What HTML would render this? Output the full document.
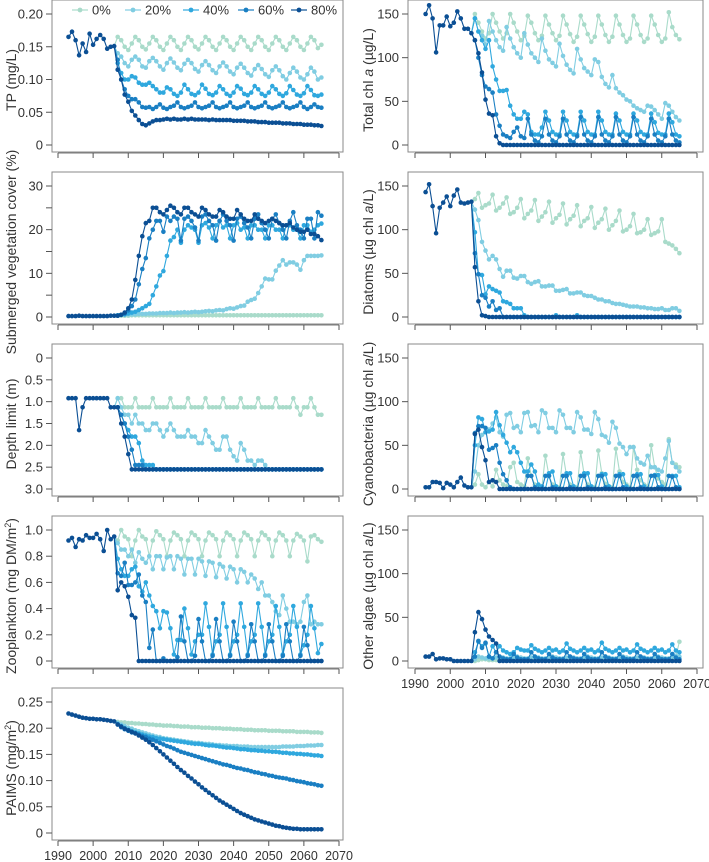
<!DOCTYPE html>
<html><head><meta charset="utf-8"><style>
html,body{margin:0;padding:0;background:#fff;}
svg{display:block;font-family:"Liberation Sans",sans-serif;}
</style></head><body>
<svg id="chart" width="709" height="862" viewBox="0 0 709 862"></svg>
<script>
// ---------- DATA ----------
const scenarioNames = ["0%","20%","40%","60%","80%"];
const histStartYear = 1993;
const scenStartYear = 2007;
const xTickYears = [1990,2000,2010,2020,2030,2040,2050,2060,2070];

// TP (mg/L)
const tpHist = [.165,.173,.160,.137,.155,.142,.170,.153,.162,.168,.162,.147,.150,.151];
const tp0 = [.165,.16,.15,.145,.155, .165,.16,.15,.146,.155, .165,.16,.15,.145,.155, .165,.16,.15,.145,.155, .165,.16,.15,.146,.155, .165,.16,.15,.145,.155, .165,.16,.15,.145,.155, .165,.16,.15,.145,.155, .165,.16,.15,.145,.155, .165,.16,.15,.145,.155, .165,.16,.15,.145,.155, .165,.16,.148,.153];
const tp20 = [.14,.135,.125,.12,.13, .135,.13,.12,.118,.128, .133,.128,.12,.115,.125, .132,.126,.118,.114,.124, .13,.125,.116,.112,.122, .128,.122,.114,.11,.12, .126,.12,.112,.108,.118, .124,.118,.11,.106,.116, .122,.116,.108,.104,.114, .12,.114,.105,.1,.11, .118,.112,.103,.1,.108, .118,.112,.1,.103];
const tp40 = [.125,.11,.10,.10,.105, .103,.095,.092,.092,.095, .09,.085,.08,.08,.088, .085,.078,.075,.08,.092, .085,.078,.076,.08,.092, .086,.078,.076,.08,.09, .085,.078,.075,.08,.09, .086,.078,.076,.08,.09, .085,.078,.075,.08,.09, .085,.078,.075,.079,.09, .084,.077,.075,.079,.09, .084,.076,.075,.077];
const tp60 = [.13,.10,.085,.075,.07, .07,.065,.058,.057,.058, .055,.058,.062,.057,.055, .058,.06,.065,.058,.056, .058,.06,.065,.058,.056, .058,.06,.065,.058,.056, .058,.06,.065,.058,.056, .058,.06,.065,.058,.056, .058,.06,.065,.058,.056, .058,.06,.065,.058,.056, .058,.06,.065,.058,.055, .058,.062,.058,.057];
const tp80 = [.115,.10,.077,.066,.052, .045,.038,.032,.03,.033, .036,.038,.038,.039,.04, .039,.04,.039,.039,.04, .039,.04,.039,.039,.039, .039,.038,.039,.038,.038, .038,.038,.038,.037,.037, .037,.037,.036,.036,.036, .035,.035,.035,.034,.034, .034,.034,.033,.033,.033, .032,.032,.032,.031,.031, .031,.030,.030,.029];

// Total chl a
const chlHist = [150,160,145,106,137,137,147,136,140,153,145,133,133,128];
const chl0 = [150,140,130,122,128, 150,140,130,122,128, 150,140,130,120,125, 148,140,128,120,125, 148,138,128,120,125, 148,138,127,118,124, 148,138,127,118,124, 148,138,126,118,124, 148,138,126,118,122, 148,138,126,118,122, 148,138,126,118,122, 152,135,126,121];
const chl20 = [145,130,125,115,142, 130,120,112,108,135, 122,112,105,100,128, 115,105,100,95,122, 108,98,94,90,116, 102,92,86,82,110, 98,88,84,80,98, 95,78,70,66,80, 65,60,57,52,50, 45,42,40,38,45, 44,40,35,30,48, 45,38,32,28];
const chl40 = [145,130,120,110,120, 90,75,62,62,63, 45,35,30,30,38, 35,15,12,12,20, 38,28,15,12,12, 38,28,15,12,12, 38,28,15,12,12, 38,28,15,12,12, 36,28,15,12,12, 36,28,15,12,12, 36,26,14,12,12, 36,26,12,10];
const chl60 = [120,100,80,67,64, 60,35,22,12,10, 8,15,20,10,8, 30,12,5,3,10, 30,12,5,3,10, 30,12,5,3,10, 32,12,5,3,10, 32,12,5,3,10, 32,12,5,3,10, 32,12,5,3,10, 30,12,5,3,10, 30,12,5,3];
const chl80 = [120,105,83,52,36, 34,10,2,0,0, 0,0,0,0,0, 0,0,0,0,0, 0,0,0,0,0, 0,0,0,0,0, 0,0,0,0,0, 0,0,0,0,0, 0,0,0,0,0, 0,0,0,0,0, 0,0,0,0,0, 0,0,0,0];

// Submerged vegetation cover (%)
const vegHist = [0.2,0.2,0.2,0.3,0.2,0.2,0.2,0.2,0.2,0.2,0.2,0.2,0.3,0.3];
const veg0 = [0.3,0.3,0.3,0.3,0.4, 0.4,0.4,0.4,0.4,0.4, 0.4,0.4,0.4,0.4,0.4, 0.4,0.4,0.4,0.4,0.4, 0.4,0.4,0.4,0.4,0.4, 0.4,0.4,0.4,0.4,0.4, 0.4,0.4,0.4,0.4,0.4, 0.4,0.4,0.4,0.4,0.4, 0.4,0.4,0.4,0.4,0.4, 0.4,0.4,0.4,0.4,0.4, 0.4,0.4,0.4,0.4,0.4, 0.4,0.4,0.4,0.4];
const veg20 = [0.4,0.5,0.5,0.6,0.6, 0.6,0.7,0.7,0.7,0.8, 0.8,0.8,0.9,0.9,0.9, 1.0,0.9,1.0,1.0,1.1, 1.0,1.1,1.2,1.1,1.2, 1.3,1.4,1.3,1.5,1.6, 1.5,1.8,2.0,1.9,2.2, 2.5,2.6,3.5,3.9,4.2, 5.5,7.0,8.8,8.6,8.6, 10.6,11.8,13.0,12.0,12.5, 12.5,12.0,10.8,13.0,14.0, 14.0,14.0,14.0,14.1];
const veg40 = [0.4,0.5,0.6,0.8,1.0, 1.2,1.6,2.0,2.5,3.0, 5.0,7.0,9.5,10.5,14.0, 17.5,18.3,20.0,17.0,20.0, 21.0,20.5,20.0,17.0,21.0, 21.5,20.5,18.0,21.0,22.0, 20.5,21.0,18.0,21.0,21.5, 20.0,20.5,18.0,21.0,21.0, 20.0,20.0,18.0,21.0,21.0, 20.0,20.0,18.0,21.0,21.0, 20.0,20.0,18.0,21.0,21.0, 19.5,20.0,21.0,21.4];
const veg60 = [0.3,0.5,0.8,1.5,2.5, 4.0,7.5,11.0,13.5,18.0, 20.0,22.0,22.0,19.5,23.0, 22.0,23.0,22.5,17.5,22.5, 23.0,22.0,20.5,17.5,23.0, 23.5,22.0,21.0,17.5,22.0, 23.5,22.0,21.0,17.5,22.5, 23.0,21.5,20.5,18.0,22.5, 23.5,21.5,20.0,18.0,22.5, 23.5,21.5,20.0,18.0,22.0, 24.0,21.0,20.0,18.0,22.5, 22.5,18.0,24.0,23.2];
const veg80 = [0.3,0.5,1.0,2.0,4.0, 8.5,14.0,18.5,21.5,22.0, 25.0,25.0,24.0,23.5,24.5, 25.5,25.0,24.0,23.5,25.0, 25.0,24.0,23.5,23.0,25.0, 24.5,23.5,23.0,23.0,24.5, 24.0,23.0,22.5,22.5,24.5, 23.5,22.5,22.0,22.0,23.5, 22.5,22.0,21.5,22.0,22.5, 22.0,21.5,21.0,21.0,21.5, 20.5,20.0,19.5,19.5,20.0, 19.0,19.0,18.5,17.6];

// Depth limit (m)
const depHist = [0.92,0.92,0.92,1.65,1.13,0.92,0.92,0.92,0.92,0.92,0.92,0.92,1.13,1.13];
const dep0 = [0.92,0.92,1.13,1.13,1.13, 0.92,1.13,1.13,1.13,1.13, 0.92,1.13,1.13,1.13,1.13, 0.92,1.13,1.13,1.13,1.13, 0.92,1.13,1.13,1.13,1.13, 0.92,1.13,1.13,1.13,1.13, 0.92,1.13,1.13,1.13,1.13, 0.92,1.13,1.13,1.13,1.13, 0.92,1.13,1.13,1.13,1.13, 0.92,1.13,1.13,1.13,1.13, 0.92,1.13,1.3,1.13,1.13, 0.92,1.13,1.3,1.3];
const dep20 = [0.92,1.13,1.3,1.3,1.5, 1.3,1.5,1.5,1.65,1.65, 1.5,1.5,1.65,1.8,1.65, 1.5,1.65,1.8,1.8,1.8, 1.65,1.8,1.8,1.95,1.95, 1.65,1.8,1.95,2.1,2.1, 1.8,1.8,2.1,2.25,2.35, 1.95,2.1,2.35,2.35,2.45, 2.35,2.35,2.45,2.55,2.55, 2.55,2.55,2.55,2.55,2.55, 2.55,2.55,2.55,2.55,2.55, 2.55,2.55,2.55,2.55];
const dep40 = [1.13,1.3,1.5,1.65,1.8, 1.8,1.95,2.35,2.45,2.45, 2.45,2.55,2.55,2.55,2.55, 2.55,2.55,2.55,2.55,2.55, 2.55,2.55,2.55,2.55,2.55, 2.55,2.55,2.55,2.55,2.55, 2.55,2.55,2.55,2.55,2.55, 2.55,2.55,2.55,2.55,2.55, 2.55,2.55,2.55,2.55,2.55, 2.55,2.55,2.55,2.55,2.55, 2.55,2.55,2.55,2.55,2.55, 2.55,2.55,2.55,2.55];
const dep60 = [1.13,1.3,1.5,1.8,2.1, 2.45,2.45,2.45,2.55,2.55, 2.55,2.55,2.55,2.55,2.55, 2.55,2.55,2.55,2.55,2.55, 2.55,2.55,2.55,2.55,2.55, 2.55,2.55,2.55,2.55,2.55, 2.55,2.55,2.55,2.55,2.55, 2.55,2.55,2.55,2.55,2.55, 2.55,2.55,2.55,2.55,2.55, 2.55,2.55,2.55,2.55,2.55, 2.55,2.55,2.55,2.55,2.55, 2.55,2.55,2.55,2.55];
const dep80 = [1.13,1.5,1.8,2.2,2.55, 2.55,2.55,2.55,2.55,2.55, 2.55,2.55,2.55,2.55,2.55, 2.55,2.55,2.55,2.55,2.55, 2.55,2.55,2.55,2.55,2.55, 2.55,2.55,2.55,2.55,2.55, 2.55,2.55,2.55,2.55,2.55, 2.55,2.55,2.55,2.55,2.55, 2.55,2.55,2.55,2.55,2.55, 2.55,2.55,2.55,2.55,2.55, 2.55,2.55,2.55,2.55,2.55, 2.55,2.55,2.55,2.55];

// Zooplankton (mg DM/m2)
const zooHist = [0.92,0.94,0.87,0.93,0.92,0.96,0.94,0.94,0.97,0.93,0.84,1.0,0.93,0.95];
const zoo0 = [0.92,1.0,0.95,0.93,0.8, 0.92,1.0,0.95,0.93,0.8, 0.92,0.99,0.96,0.93,0.8, 0.92,0.98,0.96,0.93,0.8, 0.92,0.98,0.96,0.93,0.8, 0.92,0.98,0.96,0.93,0.8, 0.92,0.98,0.96,0.93,0.8, 0.92,0.98,0.96,0.93,0.8, 0.92,0.98,0.96,0.93,0.8, 0.92,0.98,0.96,0.92,0.8, 0.92,0.97,0.95,0.92,0.76, 0.95,0.96,0.93,0.91];
const zoo20 = [0.9,0.85,0.85,0.8,0.85, 0.75,0.83,0.78,0.75,0.8, 0.7,0.8,0.8,0.7,0.79, 0.8,0.7,0.8,0.78,0.66, 0.78,0.78,0.66,0.78,0.76, 0.65,0.76,0.75,0.64,0.74, 0.72,0.63,0.72,0.7,0.6, 0.7,0.68,0.6,0.66,0.63, 0.55,0.6,0.5,0.5,0.45, 0.38,0.35,0.5,0.4,0.3, 0.3,0.28,0.3,0.45,0.5, 0.28,0.3,0.28,0.28];
const zoo40 = [0.78,0.7,0.65,0.65,0.7, 0.72,0.57,0.53,0.6,0.5, 0.42,0.38,0.25,0.38,0.37, 0.25,0.05,0.16,0.16,0.4, 0.25,0.05,0.15,0.2,0.2, 0.44,0.26,0.05,0.15,0.2, 0.44,0.26,0.05,0.15,0.2, 0.44,0.26,0.05,0.15,0.2, 0.44,0.26,0.05,0.15,0.2, 0.42,0.26,0.05,0.15,0.2, 0.42,0.26,0.05,0.12,0.2, 0.42,0.25,0.06,0.13];
const zoo60 = [0.67,0.65,0.75,0.58,0.58, 0.6,0.66,0.5,0.45,0.1, 0.24,0.0,0.0,0.02,0.0, 0.0,0.0,0.03,0.34,0.15, 0.0,0.0,0.04,0.32,0.15, 0.0,0.0,0.04,0.32,0.15, 0.0,0.0,0.04,0.3,0.15, 0.0,0.0,0.04,0.28,0.15, 0.0,0.0,0.04,0.28,0.15, 0.0,0.0,0.04,0.28,0.15, 0.0,0.0,0.04,0.26,0.12, 0.0,0.0,0.0,0.0];
const zoo80 = [0.54,0.6,0.57,0.49,0.35, 0.33,0.0,0.0,0.0,0.0, 0,0,0,0,0, 0,0,0,0,0, 0,0,0,0,0, 0,0,0,0,0, 0,0,0,0,0, 0,0,0,0,0, 0,0,0,0,0, 0,0,0,0,0, 0,0,0,0,0, 0,0,0,0];

// PAIMS (mg/m2)
const paimsHist = [.228,.226,.224,.222,.220,.219,.218,.218,.217,.217,.216,.215,.214,.213];
const paims0 = [.212,.211,.211,.210,.210, .209,.209,.208,.208,.207, .207,.206,.206,.205,.205, .205,.204,.204,.203,.203, .203,.202,.202,.202,.201, .201,.201,.200,.200,.200, .199,.199,.199,.198,.198, .198,.197,.197,.197,.196, .196,.196,.196,.195,.195, .195,.195,.194,.194,.194, .194,.193,.193,.193,.193, .192,.192,.192,.191];
const paims20 = [.210,.207,.204,.201,.199, .196,.194,.192,.190,.188, .186,.184,.183,.181,.180, .179,.178,.177,.176,.175, .174,.173,.172,.172,.171, .170,.170,.169,.168,.168, .167,.167,.166,.166,.166, .165,.165,.165,.164,.164, .164,.164,.164,.164,.164, .164,.164,.165,.165,.165, .165,.166,.166,.166,.167, .167,.167,.168,.168];
const paims40 = [.208,.204,.200,.197,.194, .192,.190,.188,.186,.184, .183,.181,.180,.179,.178, .177,.176,.175,.174,.173, .172,.171,.170,.170,.169, .168,.167,.167,.166,.165, .164,.163,.163,.162,.161, .160,.160,.159,.158,.158, .157,.157,.156,.156,.155, .155,.154,.153,.153,.152, .152,.151,.151,.150,.150, .149,.148,.148,.147];
const paims60 = [.207,.202,.198,.195,.192, .190,.188,.185,.183,.180, .178,.175,.172,.169,.166, .164,.161,.158,.155,.153, .151,.149,.147,.145,.143, .141,.139,.137,.135,.133, .131,.130,.128,.126,.124, .123,.121,.120,.118,.116, .115,.113,.112,.110,.109, .107,.106,.105,.104,.102, .101,.099,.098,.097,.095, .094,.093,.091,.090];
const paims80 = [.207,.203,.199,.196,.193, .190,.186,.182,.178,.173, .168,.162,.156,.150,.144, .138,.132,.126,.120,.115, .109,.104,.098,.093,.087, .082,.077,.072,.067,.062, .058,.054,.050,.046,.042, .038,.035,.032,.029,.026, .024,.022,.020,.018,.016, .014,.013,.011,.010,.009, .008,.008,.007,.007,.007, .007,.007,.007,.007];

// Diatoms
const diaHist = [143,152,127,96,125,131,138,127,139,146,131,130,131,132];
const dia0 = [135,142,125,128,130, 140,122,125,130,137, 118,120,125,135,113, 118,122,134,110,115, 120,132,108,113,117, 130,106,112,116,128, 104,110,113,126,102, 108,112,124,100,105, 110,122,98,100,104, 118,96,97,100,112, 94,96,98,112,86, 84,82,78,73];
const dia20 = [123,111,86,76,66, 70,66,55,46,53, 53,45,44,47,47, 40,38,40,41,35, 35,36,36,30,30, 31,32,27,27,28, 28,25,24,24,22, 20,20,18,18,16, 15,15,14,13,12, 12,12,11,11,10, 10,9,9,10,8, 8,10,10,7];
const dia40 = [97,49,48,26,35, 32,30,28,18,17, 15,10,10,10,2, 0,0,0,0,0, 0,0,0,2,0, 0,0,0,0,2, 0,0,0,0,0, 0,0,0,0,0, 0,0,0,0,0, 0,0,0,0,0, 0,0,0,0,0, 0,0,0,0];
const dia60 = [73,49,25,22,12, 18,8,10,0,0, 0,0,0,0,0, 0,0,0,0,0, 0,0,0,0,0, 0,0,0,0,0, 0,0,0,0,0, 0,0,0,0,0, 0,0,0,0,0, 0,0,0,0,0, 0,0,0,0,0, 0,0,0,0];
const dia80 = [57,18,2,1,0, 0,0,0,0,0, 0,0,0,0,0, 0,0,0,0,0, 0,0,0,0,0, 0,0,0,0,0, 0,0,0,0,0, 0,0,0,0,0, 0,0,0,0,0, 0,0,0,0,0, 0,0,0,0,0, 0,0,0,0];

// Cyanobacteria
const cyaHist = [2,2,8,8,7,1,7,5,2,8,13,4,2,2];
const cya0 = [5,17,5,2,8, 3,22,10,5,3, 25,30,8,5,3, 35,15,5,3,2, 38,15,5,3,2, 40,15,5,3,2, 42,16,5,3,2, 44,18,6,3,2, 46,20,8,5,2, 48,22,10,5,3, 50,25,12,8,5, 57,30,28,25];
const cya20 = [20,50,62,65,68, 75,82,65,60,85, 87,70,72,65,87, 88,72,73,65,90, 87,70,70,65,90, 85,70,70,65,88, 82,68,68,63,88, 80,62,60,53,77, 70,52,48,40,48, 48,35,30,28,38, 25,25,22,20,35, 55,30,25,20];
const cya40 = [50,82,80,65,66, 68,88,73,62,53, 42,48,42,30,20, 20,28,20,5,3, 0,18,20,3,0, 0,18,18,3,0, 0,18,18,3,0, 0,17,17,3,0, 0,17,17,3,0, 0,17,17,3,0, 0,16,16,3,0, 0,15,15,2];
const cya60 = [64,72,72,70,45, 47,50,30,17,10, 2,0,0,0,0, 15,15,2,0,0, 15,15,2,0,0, 15,15,2,0,0, 15,15,2,0,0, 15,15,2,0,0, 15,15,2,0,0, 15,15,2,0,0, 15,15,2,0,0, 15,14,2,0];
const cya80 = [63,68,48,33,8, 10,8,0,0,0, 0,0,0,0,0, 0,0,0,0,0, 0,0,0,0,0, 0,0,0,0,0, 0,0,0,0,0, 0,0,0,0,0, 0,0,0,0,0, 0,0,0,0,0, 0,0,0,0,0, 0,0,0,0];

// Other algae
const othHist = [5,5,8,2,3,3,2,2,0,0,0,0,0,0];
const oth0 = [0,1,2,2,1, 1,1,2,2,1, 1,1,2,2,1, 1,1,2,2,1, 1,1,2,2,1, 1,1,2,2,1, 1,1,2,2,1, 1,1,2,2,1, 1,1,2,2,1, 1,1,2,2,1, 1,1,2,2,1, 2,3,5,22];
const oth20 = [2,5,4,3,3, 3,4,5,4,3, 3,4,5,4,3, 3,4,5,4,3, 3,4,5,4,3, 3,4,5,4,3, 3,4,5,4,3, 3,4,5,4,3, 3,4,5,4,3, 3,4,5,4,3, 3,4,5,4,3, 3,5,6,5];
const oth40 = [10,22,17,20,5, 17,10,17,12,10, 8,10,15,13,12, 12,18,14,12,10, 12,15,12,13,10, 12,20,14,12,10, 12,15,12,13,10, 12,21,14,12,10, 12,15,12,13,10, 12,19,14,12,10, 12,15,12,13,10, 12,19,12,10];
const oth60 = [5,23,15,21,5, 3,10,5,3,2, 2,8,4,2,2, 2,10,5,3,2, 2,8,4,2,2, 2,10,5,3,2, 2,8,4,2,2, 2,10,5,3,2, 2,8,4,2,2, 2,10,5,3,2, 2,8,4,2,2, 2,8,4,2];
const oth80 = [33,56,48,36,28, 24,20,0,0,0, 0,0,0,0,0, 0,0,0,0,0, 0,0,0,0,0, 0,0,0,0,0, 0,0,0,0,0, 0,0,0,0,0, 0,0,0,0,0, 0,0,0,0,0, 0,0,0,0,0, 0,0,0,0];

// ---------- RENDER ----------
const colors = ["#a9dbca","#80cde2","#2fa8de","#1a7fc3","#0b4f94"];
const NS = "http://www.w3.org/2000/svg";
const svg = document.getElementById("chart");
function mk(tag, attrs, parent){
  const e = document.createElementNS(NS, tag);
  for (const k in attrs) e.setAttribute(k, attrs[k]);
  (parent||svg).appendChild(e);
  return e;
}
const panels = [
  {key:"tp", col:0, zero:145, max:0.20, ticks:[0,.05,.10,.15,.20], labels:["0","0.05","0.10","0.15","0.20"], minor:[], title:["TP (mg/L)"], hist:tpHist, sc:[tp0,tp20,tp40,tp60,tp80], legend:true},
  {key:"veg", col:0, zero:317, max:30, ticks:[0,10,20,30], labels:["0","10","20","30"], minor:[5,15,25], title:["Submerged vegetation cover (%)"], hist:vegHist, sc:[veg0,veg20,veg40,veg60,veg80]},
  {key:"depth", col:0, zero:489, max:3, invert:true, ticks:[0,.5,1,1.5,2,2.5,3], labels:["0","0.5","1.0","1.5","2.0","2.5","3.0"], minor:[], title:["Depth limit (m)"], hist:depHist, sc:[dep0,dep20,dep40,dep60,dep80]},
  {key:"zoo", col:0, zero:661, max:1, ticks:[0,.2,.4,.6,.8,1], labels:["0","0.2","0.4","0.6","0.8","1.0"], minor:[], title:["Zooplankton (mg DM/m","2",")"], hist:zooHist, sc:[zoo0,zoo20,zoo40,zoo60,zoo80]},
  {key:"paims", col:0, zero:833, max:.25, ticks:[0,.05,.1,.15,.2,.25], labels:["0","0.05","0.10","0.15","0.20","0.25"], minor:[], title:["PAIMS (mg/m","2",")"], hist:paimsHist, sc:[paims0,paims20,paims40,paims60,paims80], xlabels:true},
  {key:"chl", col:1, zero:145, max:150, ticks:[0,50,100,150], labels:["0","50","100","150"], minor:[], title:["Total chl ","a"," (µg/L)"], italic:true, hist:chlHist, sc:[chl0,chl20,chl40,chl60,chl80]},
  {key:"diatoms", col:1, zero:317, max:150, ticks:[0,50,100,150], labels:["0","50","100","150"], minor:[], title:["Diatoms (µg chl ","a","/L)"], italic:true, hist:diaHist, sc:[dia0,dia20,dia40,dia60,dia80]},
  {key:"cyano", col:1, zero:489, max:150, ticks:[0,50,100,150], labels:["0","50","100","150"], minor:[], title:["Cyanobacteria (µg chl ","a","/L)"], italic:true, hist:cyaHist, sc:[cya0,cya20,cya40,cya60,cya80]},
  {key:"other", col:1, zero:661, max:150, ticks:[0,50,100,150], labels:["0","50","100","150"], minor:[], title:["Other algae (µg chl ","a","/L)"], italic:true, hist:othHist, sc:[oth0,oth20,oth40,oth60,oth80], xlabels:true}
];
const cols = [{bx0:52,bx1:343,x1990:58,x2070:339,titleX:16},{bx0:408,bx1:703,x1990:415,x2070:697,titleX:373}];

panels.forEach(p=>{
  const c = cols[p.col];
  const g = mk("g",{});
  
  
  const xs = yr => c.x1990 + (yr-1990)*(c.x2070-c.x1990)/80;
  const ys = v => p.invert ? (p.zero-131) + v/p.max*131 : p.zero - v/p.max*131;
  const box = mk("rect",{x:c.bx0,y:p.zero-145,width:c.bx1-c.bx0,height:152,fill:"none",stroke:"#8a8a8a","stroke-width":1},g);
  
  
  p.ticks.forEach((t,i)=>{
    mk("line",{x1:c.bx0-6,x2:c.bx0,y1:ys(t),y2:ys(t),stroke:"#555","stroke-width":1},g);
    const tl = mk("text",{x:c.bx0-9,y:ys(t)+4.5,"text-anchor":"end","font-size":"13",fill:"#333"},g);
    tl.textContent = p.labels[i];
    
    
  });
  p.minor.forEach(t=>{ mk("line",{x1:c.bx0-6,x2:c.bx0,y1:ys(t),y2:ys(t),stroke:"#555","stroke-width":1},g); });
  const ax = mk("g",{},g);
  
  
  mk("line",{x1:xs(1990),x2:xs(2070),y1:p.zero+8,y2:p.zero+8,stroke:"#777","stroke-width":1},ax);
  xTickYears.forEach(yv=>{
    mk("line",{x1:xs(yv),x2:xs(yv),y1:p.zero+8,y2:p.zero+13,stroke:"#555","stroke-width":1},ax);
    if (p.xlabels){
      const t = mk("text",{x:xs(yv),y:p.zero+27,"text-anchor":"middle","font-size":"12.5",fill:"#333"},ax);
      t.textContent = yv;
      
      
    }
  });
  const cy = p.zero-65;
  const tt = mk("text",{x:c.titleX,y:cy,"text-anchor":"middle","font-size":"14",fill:"#333",transform:`rotate(-90 ${c.titleX} ${cy})`},g);
  
  
  p.title.forEach((s,i)=>{
    const ts = mk("tspan",{},tt);
    if (i===1 && p.italic) ts.setAttribute("font-style","italic");
    if (i===1 && !p.italic){ ts.setAttribute("font-size","9"); ts.setAttribute("dy","-5"); }
    if (i===2 && !p.italic){ ts.setAttribute("dy","5"); }
    ts.textContent = s;
  });
  const histYears = p.hist.map((_,i)=>histStartYear+i);
  const lastH = p.hist[p.hist.length-1];
  const lastY = histYears[histYears.length-1];
  p.sc.forEach((arr,si)=>{
    const sg = mk("g",{},g);
    
    
    const pts = [[lastY,lastH]].concat(arr.map((v,i)=>[scenStartYear+i,v]));
    mk("polyline",{points:pts.map(q=>xs(q[0]).toFixed(1)+","+ys(q[1]).toFixed(1)).join(" "),fill:"none",stroke:colors[si],"stroke-width":1.1},sg);
    pts.slice(1).forEach(q=>{
      const m = mk("circle",{cx:xs(q[0]).toFixed(1),cy:ys(q[1]).toFixed(1),r:2.3,fill:colors[si]},sg);
      
      
    });
  });
  const hg = mk("g",{},g);
  
  
  mk("polyline",{points:histYears.map((yv,i)=>xs(yv).toFixed(1)+","+ys(p.hist[i]).toFixed(1)).join(" "),fill:"none",stroke:colors[4],"stroke-width":1.1},hg);
  histYears.forEach((yv,i)=>{
    const m = mk("circle",{cx:xs(yv).toFixed(1),cy:ys(p.hist[i]).toFixed(1),r:2.3,fill:colors[4]},hg);
    
    
  });
  if (p.legend){
    const lg = mk("g",{},g);
    
    
    const lx = [72,125,183,238,291];
    scenarioNames.forEach((n,i)=>{
      const e = mk("g",{},lg);
      
      
      mk("line",{x1:lx[i],x2:lx[i]+16,y1:10,y2:10,stroke:colors[i],"stroke-width":1.2},e);
      mk("circle",{cx:lx[i]+8,cy:10,r:2.4,fill:colors[i]},e);
      const t = mk("text",{x:lx[i]+20,y:14.5,"font-size":"13",fill:"#333"},e);
      t.textContent = n;
    });
  }
});
</script>
</body></html>
